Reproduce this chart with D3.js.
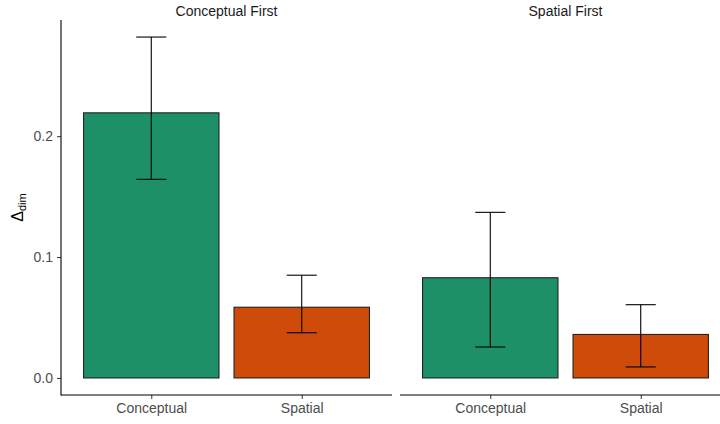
<!DOCTYPE html>
<html><head><meta charset="utf-8">
<script src="https://cdn.jsdelivr.net/npm/d3@7"></script>
<style>body{margin:0;background:#fff}text{font-family:"Liberation Sans",Arial,sans-serif}</style>
</head><body><svg id="c" width="720" height="424"></svg>
<script>
const panels = ["Conceptual First", "Spatial First"];
const categories = ["Conceptual", "Spatial"];
const means = [[0.2193, 0.0585], [0.0829, 0.0360]];
const lower = [[0.1643, 0.0374], [0.0256, 0.0091]];
const upper = [[0.2820, 0.0850], [0.1370, 0.0606]];
const yTicks = [0.0, 0.1, 0.2];
const colors = ["#1E9068", "#CE4B09"];

(function(){
const svg = d3.select("#c");
const plotTop = 20, plotBottom = 395;
const y = d3.scaleLinear().domain([-0.0141, 0.2961]).range([plotBottom, plotTop]);
const panelX = [[61, 392], [400, 731]];

const ya = svg.append("g").attr("transform", `translate(${panelX[0][0]},0)`)
  .call(d3.axisLeft(y).tickValues(yTicks).tickFormat(d3.format(".1f")).tickSize(4).tickPadding(4));
ya.select(".domain").remove();
ya.selectAll(".tick line").attr("stroke", "#333");
ya.selectAll("text").attr("fill", "#4d4d4d").style("font-size", "14px");
svg.append("line").attr("x1", panelX[0][0]).attr("x2", panelX[0][0]).attr("y1", plotTop).attr("y2", plotBottom + 0.5)
  .attr("stroke", "#000").attr("stroke-width", 1.1);

svg.append("text").attr("transform", `translate(23,${(plotTop+plotBottom)/2}) rotate(-90)`)
  .attr("text-anchor", "middle").style("font-size", "16px").attr("fill", "#000")
  .html('Δ<tspan font-size="11px" dy="3">dim</tspan>');

panels.forEach((p, pi) => {
  const [x0, x1] = panelX[pi];
  const xc = d3.scaleLinear().domain([0.4, 2.6]).range([x0, x1]);
  const unit = xc(1) - xc(0);
  const g = svg.append("g");
  categories.forEach((c, ci) => {
    const cx = xc(ci + 1);
    g.append("rect").attr("x", cx - 0.45*unit).attr("width", 0.9*unit)
      .attr("y", y(means[pi][ci])).attr("height", y(0) - y(means[pi][ci]))
      .attr("fill", colors[ci]).attr("stroke", "#222").attr("stroke-width", 1.1);
    const hw = 0.1*unit;
    g.append("line").attr("x1", cx).attr("x2", cx).attr("y1", y(lower[pi][ci])).attr("y2", y(upper[pi][ci])).attr("stroke", "#000").attr("stroke-width", 1.1);
    [lower[pi][ci], upper[pi][ci]].forEach(v => g.append("line").attr("x1", cx-hw).attr("x2", cx+hw).attr("y1", y(v)).attr("y2", y(v)).attr("stroke", "#000").attr("stroke-width", 1.1));
  });
  const xa = svg.append("g").attr("transform", `translate(0,${plotBottom})`)
    .call(d3.axisBottom(d3.scalePoint().domain(categories).range([xc(1), xc(2)])).tickSize(4).tickPadding(4));
  xa.select(".domain").remove();
  xa.selectAll(".tick line").attr("stroke", "#333");
  xa.selectAll("text").attr("fill", "#4d4d4d").style("font-size", "14px");
  svg.append("line").attr("x1", x0).attr("x2", x1).attr("y1", plotBottom).attr("y2", plotBottom).attr("stroke", "#000").attr("stroke-width", 1.1);
  svg.append("text").attr("x", (x0 + x1)/2).attr("y", 16).attr("text-anchor", "middle")
    .style("font-size", "14px").attr("fill", "#1a1a1a").text(p);
});
})();
</script></body></html>
